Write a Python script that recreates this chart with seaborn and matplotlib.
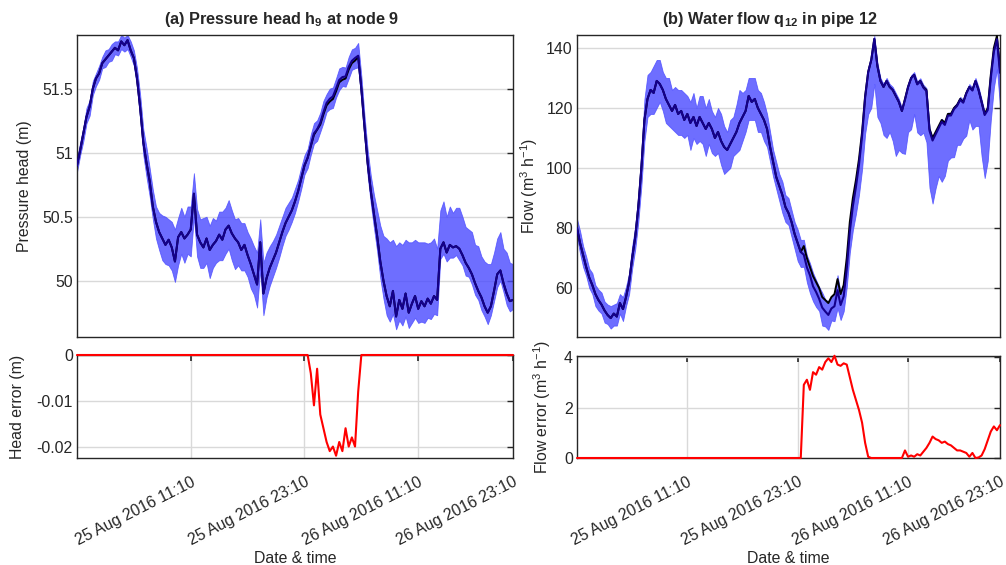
import numpy as np
import pandas as pd
import matplotlib
matplotlib.use("Agg")
import matplotlib.pyplot as plt
import seaborn as sns

# ---------------- data (20-minute samples, hours from 24 Aug 2016 23:10) ----------------
hours = np.arange(139) / 3.0

tick_hours = [12, 24, 36, 46]
tick_labels = ["25 Aug 2016 11:10", "25 Aug 2016 23:10", "26 Aug 2016 11:10", "26 Aug 2016 23:10"]

head_true = [
    50.90, 51.02, 51.15, 51.28, 51.36, 51.50, 51.58, 51.62, 51.70, 51.73, 51.76, 51.79,
    51.82, 51.80, 51.87, 51.84, 51.88, 51.80, 51.74, 51.58, 51.35, 51.08, 50.92, 50.78,
    50.58, 50.46, 50.38, 50.33, 50.28, 50.32, 50.26, 50.15, 50.34, 50.38, 50.33, 50.36,
    50.40, 50.68, 50.36, 50.30, 50.26, 50.33, 50.24, 50.28, 50.31, 50.36, 50.32, 50.40,
    50.43, 50.37, 50.33, 50.30, 50.24, 50.28, 50.20, 50.13, 50.05, 49.97, 50.30, 49.90,
    50.02, 50.10, 50.16, 50.22, 50.30, 50.38, 50.45, 50.50, 50.55, 50.62, 50.70, 50.80,
    50.90, 50.96, 51.05, 51.14, 51.18, 51.22, 51.30, 51.37, 51.40, 51.42, 51.48, 51.55,
    51.57, 51.58, 51.65, 51.70, 51.72, 51.75, 51.50, 51.20, 50.92, 50.70, 50.52, 50.35,
    50.15, 50.00, 49.88, 49.80, 49.92, 49.72, 49.85, 49.78, 49.90, 49.75, 49.82, 49.88,
    49.78, 49.84, 49.80, 49.86, 49.82, 49.88, 49.85, 50.25, 50.30, 50.22, 50.28, 50.26,
    50.27, 50.25, 50.20, 50.14, 50.10, 50.05, 49.98, 49.92, 49.87, 49.80, 49.75, 49.80,
    49.92, 50.05, 50.08, 49.98, 49.90, 49.84, 49.85]

head_error = [0.0] * 74 + [
    -0.004, -0.011, -0.003, -0.013, -0.016, -0.019, -0.021, -0.020, -0.022, -0.019,
    -0.021, -0.016, -0.020, -0.018, -0.020, -0.008] + [0.0] * 49

head_band_hi = (
    [0.05, 0.06, 0.05, 0.07, 0.05, 0.06, 0.04, 0.06, 0.05, 0.07, 0.05, 0.06, 0.05, 0.07,
     0.05, 0.06, 0.04, 0.07, 0.06, 0.08, 0.10]
    + [0.10, 0.12, 0.10, 0.13, 0.12, 0.15]
    + [0.18, 0.22, 0.16, 0.20, 0.25, 0.15, 0.19, 0.17, 0.22, 0.18, 0.16, 0.20, 0.18, 0.23,
       0.17, 0.19, 0.21, 0.16, 0.18, 0.22, 0.17, 0.20, 0.18, 0.15, 0.19, 0.21, 0.17, 0.18,
       0.20, 0.22, 0.25, 0.18, 0.24, 0.20, 0.17, 0.15, 0.14, 0.13, 0.12, 0.12, 0.11, 0.10,
       0.10, 0.09, 0.09]
    + [0.08, 0.07, 0.09, 0.08, 0.07, 0.08, 0.09, 0.07, 0.08, 0.07, 0.08, 0.09, 0.08, 0.07,
       0.08, 0.09, 0.08, 0.10, 0.10, 0.09, 0.10, 0.12, 0.15, 0.20, 0.28, 0.35]
    + [0.45, 0.50, 0.40, 0.55, 0.45, 0.50, 0.42, 0.55, 0.48, 0.44, 0.52, 0.46, 0.50, 0.43,
       0.48, 0.45, 0.40]
    + [0.30, 0.32, 0.28, 0.30, 0.27, 0.30, 0.32, 0.30, 0.28, 0.30, 0.33, 0.30, 0.35, 0.32,
       0.35, 0.38, 0.33, 0.30, 0.28, 0.30, 0.27, 0.32, 0.30, 0.28])

head_band_lo = (
    [0.05, 0.04, 0.06, 0.05, 0.07, 0.05, 0.06, 0.05, 0.04, 0.06, 0.05, 0.07, 0.05, 0.04,
     0.06, 0.05, 0.07, 0.05, 0.06, 0.07, 0.09]
    + [0.10, 0.11, 0.12, 0.10, 0.13, 0.14]
    + [0.17, 0.15, 0.20, 0.18, 0.16, 0.22, 0.17, 0.19, 0.15, 0.21, 0.18, 0.17, 0.20, 0.16,
       0.19, 0.22, 0.18, 0.17, 0.20, 0.16, 0.19, 0.18, 0.21, 0.24, 0.18, 0.16, 0.20, 0.17,
       0.19, 0.16, 0.18, 0.21, 0.17, 0.15, 0.14, 0.13, 0.12, 0.12, 0.11, 0.10, 0.10, 0.09,
       0.09, 0.08, 0.08]
    + [0.07, 0.08, 0.07, 0.08, 0.09, 0.07, 0.08, 0.07, 0.08, 0.09, 0.07, 0.08, 0.07, 0.08,
       0.09, 0.07, 0.08, 0.09, 0.08, 0.09, 0.10, 0.10, 0.11, 0.12, 0.13, 0.14]
    + [0.15, 0.12, 0.18, 0.10, 0.16, 0.13, 0.18, 0.12, 0.15, 0.17, 0.11, 0.16, 0.13, 0.15,
       0.12, 0.14, 0.12]
    + [0.08, 0.09, 0.07, 0.10, 0.08, 0.07, 0.09, 0.08, 0.10, 0.07, 0.08, 0.09, 0.07, 0.10,
       0.08, 0.09, 0.07, 0.08, 0.10, 0.08, 0.07, 0.09, 0.08, 0.07])

flow_true = [
    80, 75, 71, 67, 63.5, 61, 58, 56, 54.5, 52.5, 51, 50,
    51.5, 50.5, 55, 53, 57, 62, 70, 77, 87, 100, 116, 123,
    126, 125, 129, 128, 126, 123, 121, 119, 121, 118, 119, 116,
    118, 115, 117, 114, 117, 115, 113, 115, 113, 110, 112, 109,
    107, 106, 108, 110, 112, 115, 117, 119, 124, 122, 123, 120,
    118, 116, 113, 107, 102, 97, 94, 91, 87, 85, 82, 78,
    75, 72, 74, 70, 67, 64, 62, 60, 57, 56, 55, 57,
    58, 63, 58, 61, 70, 82, 90, 96, 103, 112, 124, 132,
    136, 143, 134, 129, 127, 129, 127, 126, 124, 122, 119, 123,
    127, 130, 131, 128, 129, 127, 126, 113, 110, 112, 114, 116,
    115, 118, 118, 120, 121, 123, 122, 125, 127, 126, 129, 126,
    122, 118, 120, 131, 140, 144, 133]

flow_error = [0.0] * 74 + [
    2.9, 3.1, 2.7, 3.4, 3.3, 3.6, 3.5, 3.8, 3.95, 3.8, 4.05, 3.7, 3.65, 3.75, 3.7,
    3.2, 2.7, 2.3, 1.9, 1.4, 0.6, 0.05] + [0.0] * 11 + [
    0.3, 0.05, 0.1, 0.05, 0.15, 0.1, 0.25, 0.4, 0.6, 0.85, 0.75, 0.7, 0.6, 0.65, 0.55,
    0.5, 0.4, 0.3, 0.3, 0.25, 0.2, 0.05, 0.2, 0.0, 0.02, 0.1, 0.35, 0.7, 1.05, 1.25,
    1.1, 1.3]

flow_band_hi = (
    [3, 4, 3, 3.5, 3, 4, 3, 3.5, 4, 3, 3.5, 4, 3, 4.5, 3, 4, 3.5, 3, 4, 3.5, 4, 5]
    + [7, 8, 6, 9, 7, 8, 6, 7, 9, 7, 6, 8, 7, 9, 6, 7, 8, 6, 7, 9, 7, 8, 6, 7, 8, 9,
       7, 6, 8, 7, 9, 11, 8, 7, 6, 8, 7, 6, 7, 6, 5, 5]
    + [4, 5, 4, 4.5, 4, 5, 4, 4, 4.5, 4, 5, 4, 4, 4.5, 4, 4, 5, 4, 4.5, 4, 4, 5, 4,
       4.5, 4, 4, 3, 3, 3, 2.5]
    + [2.0, 1.5] + [1.0] * 43)

flow_band_lo = (
    [3, 3.5, 4, 3, 3.5, 3, 4, 3.5, 3, 4, 3, 3.5, 4, 3, 3.5, 4, 3, 4, 3.5, 4, 5, 6]
    + [7, 6, 8, 7, 9, 6, 7, 8, 7, 6, 9, 7, 8, 6, 7, 9, 7, 6, 8, 7, 9, 7, 8, 6, 7, 8,
       9, 7, 8, 6, 7, 9, 8, 7, 8, 6, 7, 8, 6, 7, 6, 5]
    + [5, 4, 5, 6, 5, 4, 5, 5, 6, 5, 4, 5, 6, 5, 5, 4, 6, 5, 5, 4, 5, 6, 5, 5, 6, 7,
       8, 9, 10, 11]
    + [12, 14, 16, 15, 17, 14, 16, 19, 15, 17, 20, 16, 14, 18, 15, 17, 13, 16, 18, 15,
       17, 19, 21, 18, 16, 20, 17, 15, 14, 16, 13, 15, 12, 14, 11, 13, 15, 12, 18, 21,
       17, 14, 12, 10, 11])

# ---------------- style ----------------
sns.set_theme(style="white")
FS = 11.4
plt.rcParams.update({
    "font.family": ["Liberation Sans", "DejaVu Sans"],
    "mathtext.fontset": "custom",
    "mathtext.rm": "Liberation Sans",
    "mathtext.it": "Liberation Sans:italic",
    "mathtext.bf": "Liberation Sans:bold",
    "axes.unicode_minus": False,
    "axes.edgecolor": "#262626",
    "axes.linewidth": 1.0,
    "xtick.direction": "in",
    "ytick.direction": "in",
    "xtick.color": "#262626",
    "ytick.color": "#262626",
    "xtick.labelcolor": "#262626",
    "ytick.labelcolor": "#262626",
    "font.size": FS,
})

BAND = "#4a4aff"
EST = "#14008c"
TRUE = "black"
GRID = "#d9d9d9"

df = pd.DataFrame({
    "hours": hours,
    "head_true": head_true,
    "head_est": np.array(head_true) - np.array(head_error),
    "head_err": head_error,
    "flow_true": flow_true,
    "flow_est": np.array(flow_true, dtype=float) - np.array(flow_error),
    "flow_err": flow_error,
})
df["head_lo"] = df["head_est"] - np.array(head_band_lo)
df["head_hi"] = df["head_est"] + np.array(head_band_hi)
df["flow_lo"] = df["flow_est"] - np.array(flow_band_lo, dtype=float)
df["flow_hi"] = df["flow_est"] + np.array(flow_band_hi, dtype=float)

fig = plt.figure(figsize=(10.06, 5.65), dpi=100)
W, H = 1006, 565


def box(x0, y0, x1, y1):
    return [x0 / W, 1 - y1 / H, (x1 - x0) / W, (y1 - y0) / H]


ax_a = fig.add_axes(box(77, 35, 513, 337))
ax_ae = fig.add_axes(box(77, 355, 513, 458))
ax_b = fig.add_axes(box(577, 35, 1000, 337))
ax_be = fig.add_axes(box(577, 356, 1000, 458))

XLIM = (0, 46)


def top_panel(ax, key, ylim, yticks, yticklabels, ylabel, title, tx, lx):
    ax.fill_between(df["hours"], df[key + "_lo"], df[key + "_hi"], color=BAND,
                    alpha=0.8, linewidth=0.6, edgecolor=BAND, zorder=2)
    sns.lineplot(data=df, x="hours", y=key + "_true", ax=ax, color=TRUE, lw=1.4,
                 estimator=None, zorder=3)
    sns.lineplot(data=df, x="hours", y=key + "_est", ax=ax, color=EST, lw=1.5,
                 estimator=None, zorder=4)
    ax.set_xlim(*XLIM)
    ax.set_ylim(*ylim)
    ax.set_yticks(yticks)
    ax.set_yticklabels(yticklabels)
    ax.set_xticks([])
    ax.set_xlabel("")
    ax.set_ylabel(ylabel, fontsize=FS)
    ax.yaxis.set_label_coords(lx, 0.5)
    ax.grid(axis="y", color=GRID, lw=1.0, zorder=0)
    ax.set_axisbelow(True)
    ax.tick_params(axis="y", right=True, length=4, width=1, labelsize=FS, pad=3)
    ax.set_title(title, fontsize=11.7, fontweight="bold", x=tx, pad=8)


def err_panel(ax, key, ylim, yticks, yticklabels, ylabel, lx):
    sns.lineplot(data=df, x="hours", y=key + "_err", ax=ax, color="red", lw=1.5,
                 estimator=None, zorder=3, clip_on=False)
    ax.set_xlim(*XLIM)
    ax.set_ylim(*ylim)
    ax.set_yticks(yticks)
    ax.set_yticklabels(yticklabels)
    ax.set_xticks(tick_hours)
    ax.set_xticklabels(tick_labels, rotation=27, ha="right", va="top",
                       rotation_mode="anchor")
    ax.set_xlabel("Date & time", fontsize=FS, labelpad=2)
    ax.set_ylabel(ylabel, fontsize=FS)
    ax.yaxis.set_label_coords(lx, 0.5)
    ax.grid(True, color=GRID, lw=1.0, zorder=0)
    ax.set_axisbelow(True)
    ax.tick_params(axis="y", right=True, length=4, width=1, labelsize=FS, pad=3)
    ax.tick_params(axis="x", top=True, length=4, width=1.2, labelsize=FS, pad=12)


top_panel(ax_a, "head", (49.56, 51.92), [50, 50.5, 51, 51.5], ["50", "50.5", "51", "51.5"],
          "Pressure head (m)", r"(a) Pressure head h$_\mathbf{9}$ at node 9", 0.468, -0.103)
err_panel(ax_ae, "head", (-0.0225, 0.0), [-0.02, -0.01, 0], ["-0.02", "-0.01", "0"],
          "Head error (m)", -0.119)
top_panel(ax_b, "flow", (43.7, 144.3), [60, 80, 100, 120, 140],
          ["60", "80", "100", "120", "140"],
          r"Flow (m$^{3}$ h$^{-1}$)", r"(b) Water flow q$_\mathbf{12}$ in pipe 12", 0.456,
          -0.0875)
err_panel(ax_be, "flow", (0, 4.04), [0, 2, 4], ["0", "2", "4"],
          r"Flow error (m$^{3}$ h$^{-1}$)", -0.0567)

fig.savefig("out.png", dpi=100)
